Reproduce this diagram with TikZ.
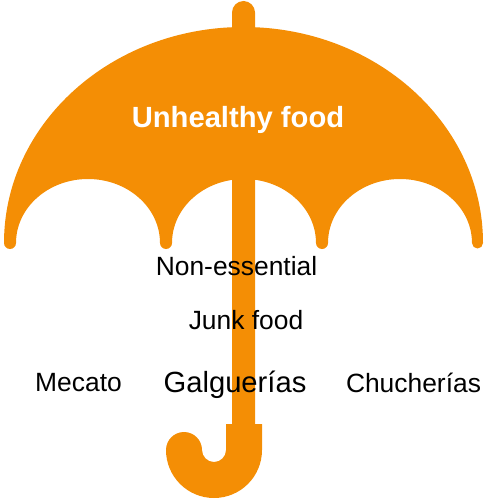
\documentclass[tikz,border=0pt]{standalone}
\usepackage{fontspec}
\setmainfont{Liberation Sans}
\definecolor{umbrella}{HTML}{F48E05}
\tikzset{
  part/.style={fill=umbrella,draw=none},
  word/.style={inner sep=0pt,black,font=\fontsize{19.8}{22}\selectfont},
}
\begin{document}
\begin{tikzpicture}[x=0.75pt,y=-0.75pt]
  \useasboundingbox (0,0) rectangle (483,499);
  % handle
  \fill[part] (232,40) -- (232,12.5) arc (180:360:11.5) -- (255,424) -- (262,424) -- (262,450)
    arc (0:180:48) arc (180:360:18) arc (180:0:12) -- (226,424) -- (232,424) -- cycle;
  % canopy
  \fill[part] (4,243) arc (180:360:239.5 and 216) arc (0:180:5.5)
    arc (360:180:72 and 64) arc (0:180:6)
    arc (360:180:72 and 64) arc (0:180:6)
    arc (360:180:72 and 64) arc (0:180:6) -- cycle;
  \node[word,white,font=\bfseries\fontsize{21.9}{24}\selectfont] (title) at (238,119.5) {Unhealthy food};
  \node[word] (nonessential) at (236.5,266) {Non-essential};
  \node[word] (junk) at (246,320) {Junk food};
  \node[word] (mecato) at (78.5,382.5) {Mecato};
  \node[word,font=\fontsize{21.9}{24}\selectfont] (galguerias) at (235,385) {Galguerías};
  \node[word] (chucherias) at (413.5,382.5) {Chucherías};
\end{tikzpicture}
\end{document}
